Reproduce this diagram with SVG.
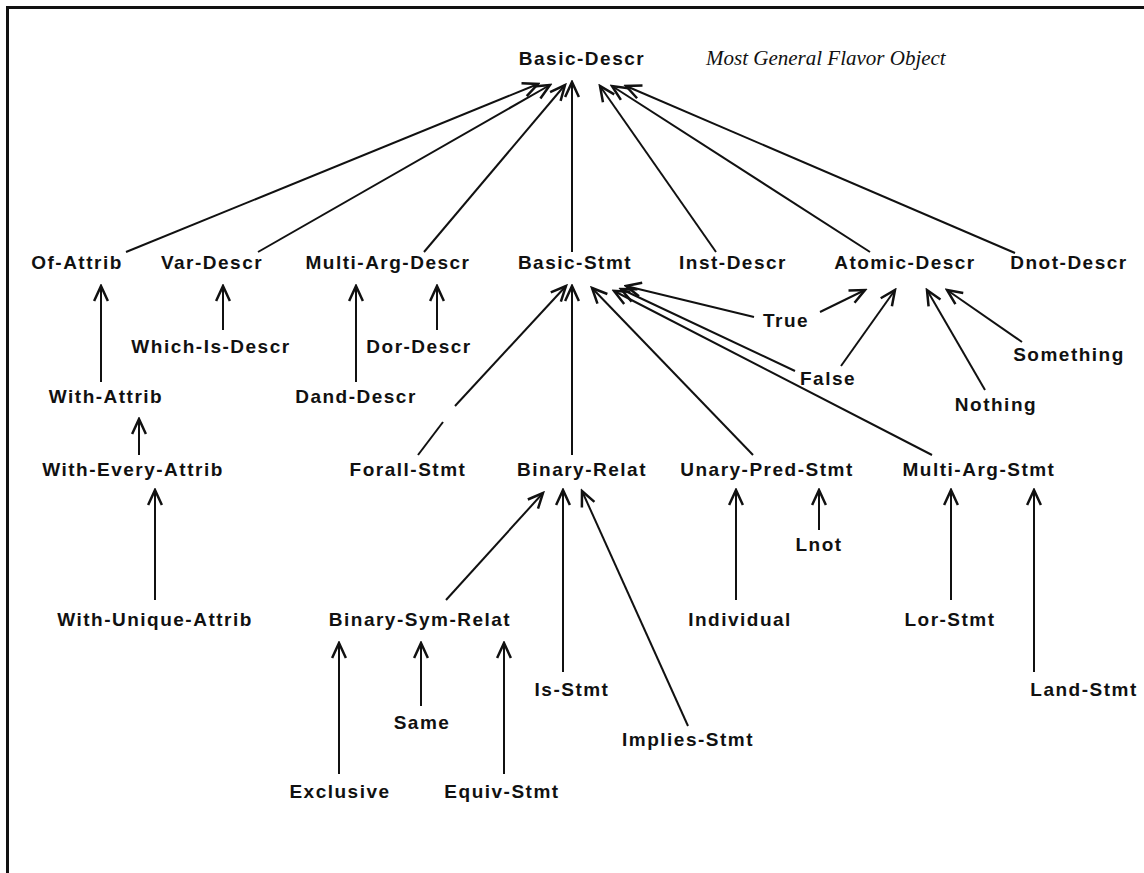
<svg xmlns="http://www.w3.org/2000/svg" width="1144" height="873" viewBox="0 0 1144 873">
  <defs>
    <style>
      .n { font-family: "Liberation Sans", Arial, sans-serif; font-weight: bold; font-size: 19px; letter-spacing: 1.5px; text-anchor: middle; fill: #111; }
      .note { font-family: "Liberation Serif", "Times New Roman", serif; font-style: italic; font-size: 21px; fill: #111; }
      .c line { stroke: #111; stroke-width: 2; fill: none; marker-end: url(#head); }
      .c .plain { marker-end: none; }
      .frame { stroke: #111; stroke-width: 3; fill: none; }
    </style>
    <marker id="head" markerUnits="userSpaceOnUse" markerWidth="20" markerHeight="20" refX="0" refY="0" viewBox="-14 -8 16 16" orient="auto">
      <path d="M-12,-5.5 L0,0 L-12,5.5" stroke="#111" stroke-width="2" fill="none"/>
    </marker>
  </defs>

  <rect width="1144" height="873" fill="#fff"/>
  <path class="frame" d="M7.5,873 V7.5 H1144"/>

  <!-- connectors: child -> parent, arrowhead at the parent -->
  <g id="connectors" class="c">
    <!-- into Basic-Descr -->
    <line x1="126" y1="252" x2="538" y2="84"/>
    <line x1="258" y1="252" x2="550" y2="85"/>
    <line x1="424" y1="252" x2="565" y2="85"/>
    <line x1="572" y1="252" x2="572" y2="82"/>
    <line x1="716" y1="252" x2="600" y2="86"/>
    <line x1="870" y1="252" x2="612" y2="86"/>
    <line x1="1015" y1="253" x2="626" y2="86"/>

    <!-- descriptor branch -->
    <line x1="101" y1="382" x2="101" y2="286"/>
    <line x1="223" y1="330" x2="223" y2="286"/>
    <line x1="356" y1="382" x2="356" y2="286"/>
    <line x1="437" y1="330" x2="437" y2="286"/>
    <line x1="139" y1="455" x2="139" y2="419"/>
    <line x1="155" y1="600" x2="155" y2="490"/>

    <!-- True / False / Nothing / Something -->
    <line x1="754" y1="317" x2="626" y2="286"/>
    <line x1="820" y1="312" x2="865" y2="290"/>
    <line x1="795" y1="371" x2="621" y2="289"/>
    <line x1="841" y1="366" x2="895" y2="290"/>
    <line x1="985" y1="390" x2="927" y2="290"/>
    <line x1="1022" y1="342" x2="947" y2="290"/>

    <!-- into Basic-Stmt (the Forall line is broken near its lower end) -->
    <line class="plain" x1="418" y1="455" x2="443" y2="422"/>
    <line x1="455" y1="406" x2="566" y2="286"/>
    <line x1="572" y1="455" x2="572" y2="286"/>
    <line x1="753" y1="455" x2="592" y2="288"/>
    <line x1="932" y1="455" x2="614" y2="291"/>

    <!-- into Binary-Relat -->
    <line x1="446" y1="600" x2="543" y2="493"/>
    <line x1="563" y1="672" x2="563" y2="490"/>
    <line x1="688" y1="726" x2="582" y2="491"/>

    <!-- into Binary-Sym-Relat -->
    <line x1="339" y1="774" x2="339" y2="643"/>
    <line x1="421" y1="706" x2="421" y2="643"/>
    <line x1="504" y1="774" x2="504" y2="643"/>

    <!-- into Unary-Pred-Stmt and Multi-Arg-Stmt -->
    <line x1="736" y1="600" x2="736" y2="490"/>
    <line x1="819" y1="530" x2="819" y2="490"/>
    <line x1="951" y1="600" x2="951" y2="490"/>
    <line x1="1034" y1="672" x2="1034" y2="490"/>
  </g>

  <!-- nodes -->
  <g id="basic-descr"><text class="n" x="582" y="65">Basic-Descr</text></g>
  <g id="caption"><text class="note" x="706" y="65">Most General Flavor Object</text></g>

  <g id="of-attrib"><text class="n" x="77" y="269">Of-Attrib</text></g>
  <g id="var-descr"><text class="n" x="212" y="269">Var-Descr</text></g>
  <g id="multi-arg-descr"><text class="n" x="388" y="269">Multi-Arg-Descr</text></g>
  <g id="basic-stmt"><text class="n" x="575" y="269">Basic-Stmt</text></g>
  <g id="inst-descr"><text class="n" x="733" y="269">Inst-Descr</text></g>
  <g id="atomic-descr"><text class="n" x="905" y="269">Atomic-Descr</text></g>
  <g id="dnot-descr"><text class="n" x="1069" y="269">Dnot-Descr</text></g>

  <g id="which-is-descr"><text class="n" x="211" y="353">Which-Is-Descr</text></g>
  <g id="dor-descr"><text class="n" x="419" y="353">Dor-Descr</text></g>
  <g id="true"><text class="n" x="786" y="327">True</text></g>
  <g id="something"><text class="n" x="1069" y="361">Something</text></g>
  <g id="false"><text class="n" x="828" y="385">False</text></g>
  <g id="with-attrib"><text class="n" x="106" y="403">With-Attrib</text></g>
  <g id="dand-descr"><text class="n" x="356" y="403">Dand-Descr</text></g>
  <g id="nothing"><text class="n" x="996" y="411">Nothing</text></g>

  <g id="with-every-attrib"><text class="n" x="133" y="476">With-Every-Attrib</text></g>
  <g id="forall-stmt"><text class="n" x="408" y="476">Forall-Stmt</text></g>
  <g id="binary-relat"><text class="n" x="582" y="476">Binary-Relat</text></g>
  <g id="unary-pred-stmt"><text class="n" x="767" y="476">Unary-Pred-Stmt</text></g>
  <g id="multi-arg-stmt"><text class="n" x="979" y="476">Multi-Arg-Stmt</text></g>

  <g id="lnot"><text class="n" x="819" y="551">Lnot</text></g>

  <g id="with-unique-attrib"><text class="n" x="155" y="626">With-Unique-Attrib</text></g>
  <g id="binary-sym-relat"><text class="n" x="420" y="626">Binary-Sym-Relat</text></g>
  <g id="individual"><text class="n" x="740" y="626">Individual</text></g>
  <g id="lor-stmt"><text class="n" x="950" y="626">Lor-Stmt</text></g>

  <g id="is-stmt"><text class="n" x="572" y="696">Is-Stmt</text></g>
  <g id="land-stmt"><text class="n" x="1084" y="696">Land-Stmt</text></g>
  <g id="same"><text class="n" x="422" y="729">Same</text></g>
  <g id="implies-stmt"><text class="n" x="688" y="746">Implies-Stmt</text></g>
  <g id="exclusive"><text class="n" x="340" y="798">Exclusive</text></g>
  <g id="equiv-stmt"><text class="n" x="502" y="798">Equiv-Stmt</text></g>
</svg>
